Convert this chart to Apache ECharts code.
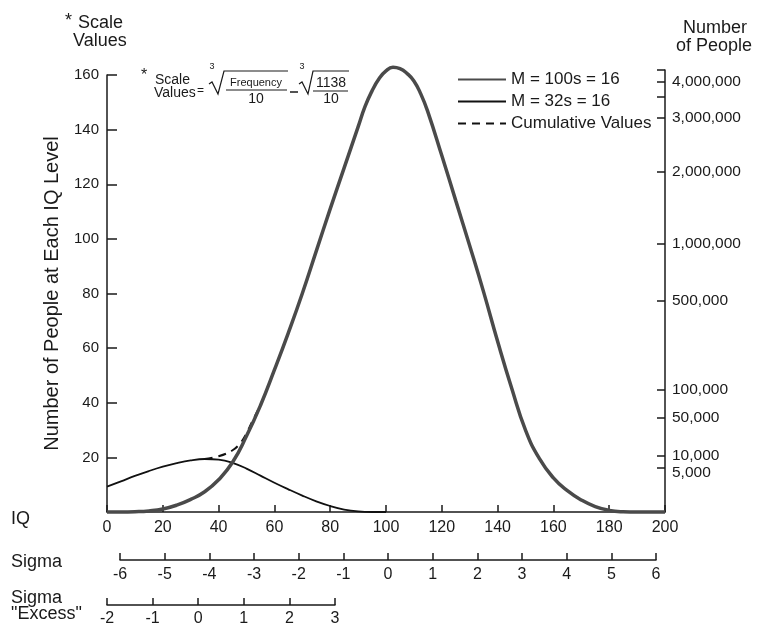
<!DOCTYPE html>
<html><head><meta charset="utf-8">
<script src="https://cdn.jsdelivr.net/npm/echarts@6/dist/echarts.min.js"></script>
<style>html,body{margin:0;padding:0;background:#fff}#c{width:759px;height:627px}</style>
</head><body><div id="c"></div>
<script>
// ---------- data ----------
const mainIQ = [0,5,10,15,20,25,30,35,40,45,50,55,60,65,70,75,80,85,90,92.5,95,97.5,100,102.5,105,107.5,110,112.5,115,120,125,130,135,140,145,150,155,160,165,170,175,180,185,190,200];
const mainValues = [0,0,0.1,0.4,1.1,2.5,4.6,7.4,11.8,18.2,27.8,39,52,65.6,80,95.5,111,126,141,148.5,154.2,158.6,161.5,162.8,162.3,160.6,157.8,153,146.5,130.5,114,97.5,80.5,62.5,45.5,30,19.5,12.5,7.8,4.4,2,0.6,0.1,0,0];

const smallIQ = [0,5,10,15,20,25,30,35,40,45,50,55,60,65,70,75,80,85,90,95,100];
const smallValues = [9.3,11.2,13.2,15,16.6,17.9,18.9,19.4,19.2,18,15.9,13.3,10.7,8.3,6,3.9,2.2,0.9,0.2,0,0];

const cumIQ = [35,40,45,48,50,52,55];
const cumValues = [19.4,20.4,22.6,25.5,28.8,33,39];

const seriesNames = ['M = 100s = 16', 'M = 32s = 16', 'Cumulative Values'];

// right axis: number of people, placed at their scale-value heights
const rightTickValues = [161.8,157.6,152.1,144.2,124.6,98.1,77.4,44.7,34.6,20.7,16.1];
const rightLabelValues = [157.6,144.2,124.6,98.1,77.4,44.7,34.6,20.7,16.1];
const rightLabels = ['4,000,000','3,000,000','2,000,000','1,000,000','500,000','100,000','50,000','10,000','5,000'];

const iqRange = [0, 200];
const sigmaRange = [-6, 6];
const excessRange = [-2, 3];
const leftRange = [0, 160];

// ---------- chart ----------
const FONT = "'Liberation Sans', Arial, Helvetica, sans-serif";
const INK = '#1a1a1a';
const zip = (xs, ys) => xs.map((x, i) => [x, ys[i]]);

const axisLine = {show: true, onZero: false, lineStyle: {color: INK, width: 1.5}};
const tick = (len) => ({show: true, inside: true, length: len, lineStyle: {color: INK, width: 1.5}});
const lbl = (size, margin) => ({color: INK, fontSize: size, fontFamily: FONT, margin: margin, hideOverlap: false});

function T(text, x, y, size, opts) {
  opts = opts || {};
  return {type: 'text', x: x, y: y, z: 10, style: {text: text, fill: INK, fontSize: size, fontFamily: FONT,
    align: opts.align || 'left', verticalAlign: opts.va || 'middle'}};
}
function L(x1, y1, x2, y2, w) {
  return {type: 'line', z: 10, shape: {x1: x1, y1: y1, x2: x2, y2: y2}, style: {stroke: INK, lineWidth: w || 1.2}};
}
function P(pts) {
  return {type: 'polyline', z: 10, shape: {points: pts}, style: {stroke: INK, fill: null, lineWidth: 1.2}};
}

const chart = echarts.init(document.getElementById('c'), null, {renderer: 'canvas'});
chart.setOption({
  animation: false,
  backgroundColor: '#ffffff',
  textStyle: {fontFamily: FONT},
  grid: [
    {left: 107, right: 94, top: 75, bottom: 115},
    {left: 107, right: 94, top: 70, bottom: 115},
    {left: 120, right: 103, top: 559, height: 1},
    {left: 107, right: 424, top: 604, height: 1}
  ],
  xAxis: [
    {gridIndex: 0, type: 'value', min: iqRange[0], max: iqRange[1], interval: 20,
     axisLine: axisLine, axisTick: tick(7), axisLabel: lbl(16, 8), splitLine: {show: false}},
    {gridIndex: 1, type: 'value', min: iqRange[0], max: iqRange[1], show: false},
    {gridIndex: 2, type: 'value', min: sigmaRange[0], max: sigmaRange[1], interval: 1,
     axisLine: axisLine, axisTick: tick(7), axisLabel: lbl(16, 7), splitLine: {show: false}},
    {gridIndex: 3, type: 'value', min: excessRange[0], max: excessRange[1], interval: 1,
     axisLine: axisLine, axisTick: tick(7), axisLabel: lbl(16, 6), splitLine: {show: false}}
  ],
  yAxis: [
    {gridIndex: 0, type: 'value', position: 'left', min: leftRange[0], max: leftRange[1], interval: 20,
     axisLine: axisLine, axisTick: tick(10),
     axisLabel: Object.assign(lbl(15, 8), {formatter: v => v === 0 ? '' : String(v)}),
     splitLine: {show: false},
     name: 'Number of People at Each IQ Level', nameLocation: 'middle', nameGap: 45, nameRotate: 90,
     nameTextStyle: {color: INK, fontSize: 20, fontFamily: FONT}},
    {gridIndex: 1, type: 'value', position: 'right', min: 0, max: rightTickValues[0],
     axisLine: axisLine,
     axisTick: Object.assign(tick(8), {customValues: rightTickValues}),
     axisLabel: Object.assign(lbl(15.5, 7), {customValues: rightLabelValues,
       formatter: v => {
         const i = rightLabelValues.indexOf(v);
         if (i < 0) return '';
         return i === rightLabels.length - 1 ? '{lo|' + rightLabels[i] + '}' : rightLabels[i];
       },
       rich: {lo: {fontSize: 15.5, color: INK, fontFamily: FONT, padding: [9, 0, 0, 0]}}}),
     splitLine: {show: false}},
    {gridIndex: 2, type: 'value', min: 0, max: 1, show: false},
    {gridIndex: 3, type: 'value', min: 0, max: 1, show: false}
  ],
  legend: {
    orient: 'vertical', left: 452, top: 66, itemWidth: 48, itemHeight: 12, itemGap: 5,
    selectedMode: false, data: seriesNames,
    itemStyle: {opacity: 0},
    textStyle: {color: INK, fontSize: 17, fontFamily: FONT}
  },
  series: [
    {name: seriesNames[0], type: 'line', xAxisIndex: 0, yAxisIndex: 0, data: zip(mainIQ, mainValues),
     smooth: 0.5, symbol: 'none', clip: false, z: 3,
     lineStyle: {color: '#4a4a4a', width: 3.5}, itemStyle: {color: '#4a4a4a'}},
    {name: seriesNames[1], type: 'line', xAxisIndex: 0, yAxisIndex: 0, data: zip(smallIQ, smallValues),
     smooth: 0.4, symbol: 'none', clip: false, z: 2,
     lineStyle: {color: '#111', width: 1.8}, itemStyle: {color: '#111'}},
    {name: seriesNames[2], type: 'line', xAxisIndex: 0, yAxisIndex: 0, data: zip(cumIQ, cumValues),
     smooth: 0.4, symbol: 'none', clip: false, z: 2,
     lineStyle: {color: '#111', width: 2, type: [8, 6]}, itemStyle: {color: '#111'}}
  ],
  graphic: [
    // top-left title
    T('*', 65, 12, 18, {va: 'top'}), T('Scale', 78, 23, 18), T('Values', 73, 41, 18),
    // top-right title
    T('Number', 715, 28, 18, {align: 'center'}), T('of People', 714, 46, 18, {align: 'center'}),
    // formula
    T('*', 141, 68, 16, {va: 'top'}), T('Scale', 155, 80, 14), T('Values', 154, 93, 14),
    T('=', 197, 91, 12),
    T('3', 212, 67, 9, {align: 'center'}), P([[209,84],[212,82],[218,94],[224,71],[288,71]]),
    T('Frequency', 256, 83, 11, {align: 'center'}), L(226, 90, 287, 90), T('10', 256, 99, 14, {align: 'center'}),
    L(290, 92, 298, 92, 1.5),
    T('3', 302, 67, 9, {align: 'center'}), P([[299,84],[302,82],[308,94],[313,71],[349,71]]),
    T('1138', 331, 83, 14, {align: 'center'}), L(313, 91, 348, 91), T('10', 331, 99, 14, {align: 'center'}),
    // bottom axis titles
    T('IQ', 11, 519, 18), T('Sigma', 11, 562, 18), T('Sigma', 11, 598, 18), T('"Excess"', 11, 614, 18)
  ]
});
</script></body></html>
